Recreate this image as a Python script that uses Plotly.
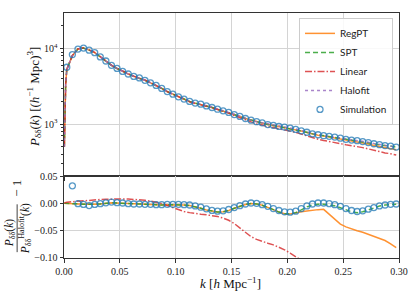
import plotly.graph_objects as go

# ---------------- data ----------------
k_sim = [0.0025, 0.0075, 0.0125, 0.0175, 0.0225, 0.0275, 0.0325, 0.0375, 0.0425, 0.0475,
         0.0525, 0.0575, 0.0625, 0.0675, 0.0725, 0.0775, 0.0825, 0.0875, 0.0925, 0.0975,
         0.1025, 0.1075, 0.1125, 0.1175, 0.1225, 0.1275, 0.1325, 0.1375, 0.1425, 0.1475,
         0.1525, 0.1575, 0.1625, 0.1675, 0.1725, 0.1775, 0.1825, 0.1875, 0.1925, 0.1975,
         0.2025, 0.2075, 0.2125, 0.2175, 0.2225, 0.2275, 0.2325, 0.2375, 0.2425, 0.2475,
         0.2525, 0.2575, 0.2625, 0.2675, 0.2725, 0.2775, 0.2825, 0.2875, 0.2925, 0.2975]

k_low = [0.0003, 0.0008, 0.0015]
p_halofit_low = [500, 1800, 3400]

p_halofit = [5300, 8090, 9890, 10190, 9590, 8870, 7780, 6855, 6000, 5458,
             4989, 4613, 4295, 4093, 3811, 3532, 3258, 2979, 2698, 2495,
             2301, 2148, 2004, 1905, 1849, 1758, 1679, 1596, 1517, 1445,
             1346, 1268, 1186, 1127, 1074, 1042, 991, 971, 942, 925,
             897, 861, 822, 782, 743, 721, 700, 687, 673, 653,
             634, 621, 611, 593, 575, 552, 536, 520, 511, 495]

# ratios P / P_halofit - 1
r_sim = [0.07, 0.032, -0.0006, -0.002, -0.004, -0.002, -0.0006, 0.001, 0.0024, 0.0012,
         0.0006, -0.0006, -0.0012, -0.0012, -0.0018, -0.0018, -0.0024, -0.0024, -0.0018, -0.0018,
         -0.0018, -0.0024, -0.003, -0.0048, -0.0071, -0.010, -0.013, -0.0143, -0.0137, -0.0113,
         -0.0077, -0.0042, -0.0012, 0.0006, 0.0, -0.0024, -0.0054, -0.0095, -0.0131, -0.0155,
         -0.0161, -0.0143, -0.0095, -0.0048, -0.0012, 0.0006, 0.0006, -0.0006, -0.0024, -0.0054,
         -0.0095, -0.0131, -0.0149, -0.0137, -0.0107, -0.0077, -0.0048, -0.003, -0.0018, -0.0012]

r_spt_low = [0.0, 0.0, 0.0]
r_spt = [0.0, 0.0, -0.001, -0.0015, -0.002, -0.0015, -0.001, 0.0, 0.001, 0.0005,
         0.0, -0.001, -0.0015, -0.002, -0.0025, -0.003, -0.003, -0.003, -0.0025, -0.0025,
         -0.0025, -0.003, -0.004, -0.006, -0.009, -0.012, -0.0145, -0.016, -0.0155, -0.013,
         -0.009, -0.005, -0.002, -0.0005, -0.001, -0.0035, -0.007, -0.0115, -0.016, -0.019,
         -0.0195, -0.017, -0.012, -0.0065, -0.003, -0.0015, -0.0015, -0.0025, -0.0045, -0.008,
         -0.012, -0.0155, -0.017, -0.0155, -0.012, -0.008, -0.005, -0.003, -0.002, -0.0015]

r_regpt_low = [0.0, 0.0, 0.0]
r_regpt = [0.0, 0.0, -0.001, -0.0015, -0.002, -0.0015, -0.001, 0.0, 0.001, 0.0005,
           0.0, -0.001, -0.0015, -0.002, -0.0025, -0.003, -0.003, -0.003, -0.0025, -0.0025,
           -0.0025, -0.003, -0.004, -0.006, -0.009, -0.012, -0.0145, -0.016, -0.0155, -0.013,
           -0.009, -0.005, -0.002, -0.0005, -0.001, -0.0035, -0.007, -0.0115, -0.016, -0.019,
           -0.0195, -0.017, -0.0155, -0.014, -0.0125, -0.0115, -0.011, -0.020, -0.030, -0.038,
           -0.043, -0.047, -0.050, -0.053, -0.057, -0.060, -0.064, -0.068, -0.074, -0.081]

r_linear_low = [0.0005, 0.001, 0.0015]
r_linear = [0.002, 0.003, 0.004, 0.005, 0.006, 0.0065, 0.007, 0.0075, 0.008, 0.008,
            0.008, 0.008, 0.0075, 0.0065, 0.0055, 0.004, 0.002, -0.0005, -0.004, -0.008,
            -0.012, -0.015, -0.017, -0.019, -0.020, -0.021, -0.022, -0.024, -0.027, -0.031,
            -0.037, -0.045, -0.053, -0.061, -0.066, -0.070, -0.073, -0.076, -0.080, -0.085,
            -0.091, -0.098, -0.106, -0.113, -0.120, -0.127, -0.134, -0.141, -0.148, -0.155,
            -0.161, -0.167, -0.173, -0.179, -0.185, -0.191, -0.197, -0.203, -0.209, -0.215]

x_ticks = [0.0, 0.05, 0.10, 0.15, 0.20, 0.25, 0.30]
x_ticktext = ["0.00", "0.05", "0.10", "0.15", "0.20", "0.25", "0.30"]
r_ticks = [-0.10, -0.05, 0.0, 0.05]
r_ticktext = ["\u22120.10", "\u22120.05", "0.00", "0.05"]
p_ticks = [1000, 10000]
p_ticktext = ["10<sup>3</sup>", "10<sup>4</sup>"]
p_minor = [300, 400, 500, 600, 700, 800, 900, 2000, 3000, 4000, 5000, 6000, 7000, 8000, 9000, 20000]

# ---------------- derived ----------------
k_model = k_low + k_sim
ph_model = p_halofit_low + p_halofit


def scale(p, r):
    return [a * (1 + b) for a, b in zip(p, r)]


p_sim = scale(p_halofit, r_sim)
p_regpt = scale(ph_model, r_regpt_low + r_regpt)
p_spt = scale(ph_model, r_spt_low + r_spt)
p_linear = scale(ph_model, r_linear_low + r_linear)

C_ORANGE = "rgba(255,127,14,0.85)"
C_GREEN = "rgba(44,160,44,0.85)"
C_RED = "rgba(214,39,40,0.8)"
C_PURPLE = "rgba(148,103,189,0.8)"
C_BLUE = "rgba(31,119,180,0.75)"
DASH_SPT = "5px,3px"
DASH_LIN = "7px,2px,1.5px,2px"

fig = go.Figure()

# top panel
fig.add_trace(go.Scatter(x=k_model, y=p_regpt, mode="lines", name="RegPT",
                         line=dict(color=C_ORANGE, width=1.5)))
fig.add_trace(go.Scatter(x=k_model, y=p_spt, mode="lines", name="SPT",
                         line=dict(color=C_GREEN, width=1.5, dash=DASH_SPT)))
fig.add_trace(go.Scatter(x=k_model, y=p_linear, mode="lines", name="Linear",
                         line=dict(color=C_RED, width=1.5, dash=DASH_LIN)))
fig.add_trace(go.Scatter(x=k_model, y=ph_model, mode="lines", name="Halofit",
                         line=dict(color=C_PURPLE, width=1.5, dash="dot")))
fig.add_trace(go.Scatter(x=k_sim, y=p_sim, mode="markers", name="Simulation",
                         marker=dict(symbol="circle-open", size=6, color=C_BLUE,
                                     line=dict(width=1.3, color=C_BLUE))))

# bottom panel
fig.add_trace(go.Scatter(x=k_model, y=r_regpt_low + r_regpt, mode="lines", showlegend=False,
                         line=dict(color=C_ORANGE, width=1.5), xaxis="x2", yaxis="y2"))
fig.add_trace(go.Scatter(x=k_model, y=r_spt_low + r_spt, mode="lines", showlegend=False,
                         line=dict(color=C_GREEN, width=1.5, dash=DASH_SPT), xaxis="x2", yaxis="y2"))
fig.add_trace(go.Scatter(x=k_model, y=r_linear_low + r_linear, mode="lines", showlegend=False,
                         line=dict(color=C_RED, width=1.5, dash=DASH_LIN), xaxis="x2", yaxis="y2"))
fig.add_trace(go.Scatter(x=k_sim, y=r_sim, mode="markers", showlegend=False,
                         marker=dict(symbol="circle-open", size=6, color=C_BLUE,
                                     line=dict(width=1.3, color=C_BLUE)), xaxis="x2", yaxis="y2"))

W, H = 415, 299
PLOT_H = 251.0
SPLIT = 84 / PLOT_H
SERIF = "Liberation Serif"
tickfont = dict(family=SERIF, size=10, color="#222222")
GRID = "#d4d4d4"
LINE = "#333333"

common_x = dict(range=[0, 0.30], tickvals=x_ticks, ticktext=x_ticktext, showgrid=True,
                gridcolor=GRID, gridwidth=1, showline=True, linecolor=LINE, linewidth=1,
                mirror=True, ticks="outside", ticklen=3.5, tickcolor=LINE, zeroline=False,
                tickfont=tickfont)

fig.update_layout(
    width=W, height=H,
    margin=dict(l=64, r=15, t=7, b=41, pad=0),
    paper_bgcolor="white", plot_bgcolor="white",
    xaxis=dict(common_x, anchor="y", domain=[0, 1], showticklabels=False, matches="x2"),
    xaxis2=dict(common_x, anchor="y2", domain=[0, 1]),
    yaxis=dict(type="log", range=[2.311, 4.473], domain=[SPLIT, 1], anchor="x",
               tickvals=p_ticks, ticktext=p_ticktext, showgrid=True, gridcolor=GRID,
               showline=True, linecolor=LINE, linewidth=1, mirror=True,
               ticks="outside", ticklen=3.5, tickcolor=LINE, tickfont=tickfont,
               minor=dict(tickvals=p_minor, ticks="outside", ticklen=2, tickcolor=LINE,
                          showgrid=False)),
    yaxis2=dict(range=[-0.10, 0.05], domain=[0, SPLIT], anchor="x2",
                tickvals=r_ticks, ticktext=r_ticktext, showgrid=True, gridcolor=GRID,
                showline=True, linecolor=LINE, linewidth=1, mirror=True, zeroline=False,
                ticks="outside", ticklen=3.5, tickcolor=LINE, tickfont=tickfont),
    legend=dict(x=(394 - 64) / 336.0, y=(258 - 12) / PLOT_H, xanchor="right", yanchor="top",
                bgcolor="rgba(255,255,255,0.85)", bordercolor="#cccccc", borderwidth=1,
                font=dict(family="Lato", size=10, color="#222222"),
                tracegroupgap=0, itemwidth=30),
    showlegend=True,
)


def px(xp):
    return (xp - 64) / 336.0


def py(yp):
    return (258 - yp) / PLOT_H


ann_font = dict(family=SERIF, size=13, color="#111111")
fig.add_annotation(xref="paper", yref="paper", x=px(34), y=py(93), showarrow=False,
                   textangle=-90, xanchor="center", yanchor="middle", font=ann_font,
                   text="<i>P</i><sub>δδ</sub>(<i>k</i>) [(<i>h</i><sup>\u22121</sup> Mpc)<sup>3</sup>]")
fig.add_annotation(xref="paper", yref="paper", x=px(231), y=py(284), showarrow=False,
                   xanchor="center", yanchor="middle", font=ann_font,
                   text="<i>k</i> [<i>h</i> Mpc<sup>\u22121</sup>]")
frac_font = dict(family=SERIF, size=11.5, color="#111111")
fig.add_annotation(xref="paper", yref="paper", x=px(9.5), y=py(232), showarrow=False,
                   textangle=-90, xanchor="center", yanchor="middle", font=frac_font,
                   text="<i>P</i><sub>δδ</sub>(<i>k</i>)")
fig.add_annotation(xref="paper", yref="paper", x=px(24.5), y=py(228), showarrow=False,
                   textangle=-90, xanchor="center", yanchor="middle", font=frac_font,
                   text="<i>P</i><sub>δδ</sub><sup>Halofit</sup>(<i>k</i>)")
fig.add_annotation(xref="paper", yref="paper", x=px(17), y=py(187), showarrow=False,
                   textangle=-90, xanchor="center", yanchor="middle", font=ann_font,
                   text="\u2212 1")
fig.add_shape(type="line", xref="paper", yref="paper", x0=px(17), x1=px(17),
              y0=py(252), y1=py(203), line=dict(color="#111111", width=0.8))

# remove the default 8px page margin so the figure sits at the window's corner
fig.write_html("out.html", config={"displayModeBar": False},
               post_script="document.body.style.margin='0px';document.body.style.padding='0px';")
